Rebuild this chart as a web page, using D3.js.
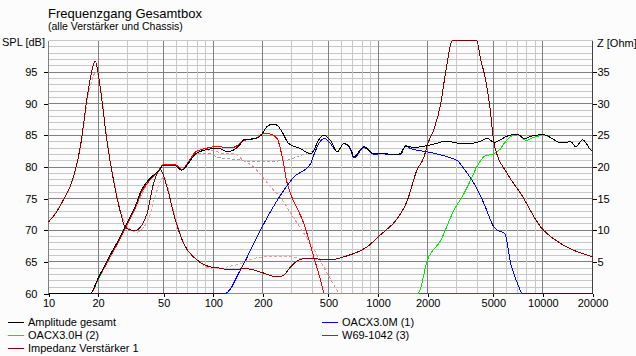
<!DOCTYPE html>
<html>
<head>
<meta charset="utf-8">
<script src="https://d3js.org/d3.v7.min.js"></script>
<style>
body { margin: 0; background: #fcfcfc; }
svg { display: block; font-family: "Liberation Sans", Arial, sans-serif; }
</style>
</head>
<body>
<svg width="636" height="356"></svg>
<script>
var freqTicks = [10, 20, 50, 100, 200, 500, 1000, 2000, 5000, 10000, 20000];
var splTicks = [60, 65, 70, 75, 80, 85, 90, 95];
var ohmTicks = [5, 10, 15, 20, 25, 30, 35];

// [Hz, dB]
var gesamt = [[10,60],[17.9,60],[20,62.4],[23,65.5],[26.5,68.4],[30,71.2],[33.5,73.7],[36.6,76.3],[40.3,77.9],[43.4,78.7],[46.4,79.4],[50,80.3],[58.6,80.2],[64.4,79.5],[70.6,80.6],[77.5,82.0],[89,82.7],[102,82.9],[110,82.9],[121,82.4],[133,82.7],[146,83.6],[153,84.3],[180,84.5],[195,85.0],[212,86.4],[230,86.8],[244,86.6],[262,85.5],[287,83.7],[338,82.9],[389,82.1],[407,82.6],[430,84.0],[470,85.0],[514,84.2],[565,82.4],[620,83.7],[681,82.9],[713,81.6],[820,83.2],[943,82.1],[1060,82.2],[1191,82.0],[1309,82.0],[1371,82.2],[1469,83.3],[1650,83.1],[2087,83.5],[2634,84.1],[3000,83.8],[3648,83.7],[4195,84.1],[4609,84.5],[5053,83.9],[6093,84.9],[7011,85.2],[7691,84.5],[8843,85.0],[10164,85.1],[11400,84.5],[12841,83.8],[14770,84.0],[15850,83.2],[17400,84.3],[19540,82.7],[20000,82.5]];
var w69 = [[10,60],[18,60],[20,62.2],[23,65.2],[26.5,68.1],[30,70.9],[33.5,73.4],[36.6,76.0],[40.3,77.6],[43.4,78.5],[46.4,79.4],[50,80.4],[58.6,80.4],[64.4,79.6],[70.6,80.8],[77.5,82.3],[81,82.6],[89,82.9],[102,83.2],[110,83.2],[121,83.0],[133,83.1],[146,83.8],[153,84.2],[180,84.5],[202,85.3],[222,85.2],[244,84.5],[262,81.6],[281,77.4],[294,75.8],[354,71.1],[407,65.8],[448,62.1],[473,60],[20000,60]];
var oacxM = [[10,60],[118,60],[146,63.7],[193,70.0],[244,74.7],[308,78.4],[389,80.5],[410,82.1],[437,83.7],[473,84.5],[514,83.7],[565,82.4],[620,83.7],[681,82.7],[713,81.4],[820,83.1],[943,82.0],[1060,82.1],[1191,81.9],[1371,82.0],[1469,83.4],[1577,82.9],[1992,82.4],[2634,81.6],[3028,81.0],[3321,79.7],[3820,77.4],[4393,74.2],[5053,70.5],[5297,70.0],[5868,69.5],[6383,64.7],[7011,61.6],[7516,60],[20000,60]];
var oacxH = [[10,60],[1746,60],[1992,65.3],[2400,68.4],[2887,73.2],[3321,75.8],[3700,78.3],[3966,80.0],[4500,81.8],[4930,82.0],[5500,82.8],[5809,83.7],[7011,85.2],[7873,84.2],[8843,84.7],[10164,85.0],[11400,84.5],[12841,83.8],[14770,84.0],[15850,83.2],[17400,84.3],[19540,82.7],[20000,82.5]];
// [Hz, Ohm]
var impedanz = [[10,11.3],[11.2,12.9],[12.6,15.3],[13.5,16.8],[15.6,23.2],[17.5,32.4],[19.2,36.7],[20.6,32.6],[22.6,24.2],[24.8,17.9],[27.3,12.9],[29.2,10.5],[31.9,10.0],[33.6,10.0],[39.6,12.6],[43.4,17.4],[47.7,19.6],[52.4,16.8],[58.9,11.6],[66.1,7.9],[79.7,5.3],[96,4.2],[110,4.0],[121,3.8],[160,3.9],[193,3.4],[244,2.6],[268,2.9],[294,4.2],[338,5.4],[354,5.5],[539,5.4],[620,5.8],[860,7.4],[1036,9.3],[1137,10.2],[1240,11.1],[1504,14.7],[1720,19.5],[1900,21.6],[1992,23.5],[2184,26],[2400,30],[2570,35],[2825,40],[3100,43],[3400,44],[3700,43],[3966,40],[4195,37],[4500,33.7],[4800,28.9],[5053,23.7],[6093,18.9],[7342,15.8],[9706,10.5],[12841,7.9],[15480,6.8],[19540,5.9],[20000,5.8]];

// alte Kurven (gestrichelt)
var gesamtAlt = [[10,60],[17.9,60],[20,62.4],[26.5,68.4],[33.5,73.7],[40.3,77.9],[46.4,79.4],[50,80.3],[58.6,80.2],[64.4,79.5],[70.6,80.6],[77.5,82.0],[89,82.2],[96,82.1],[105,81.6],[121,81.3],[140,81.2],[160,80.9],[212,80.9],[268,81.0],[338,81.8],[389,82.4],[410,82.6]];
var w69Alt = [[10,60],[18,60],[20,62.2],[26.5,68.1],[33.5,73.4],[40.3,77.6],[46.4,79.4],[50,80.4],[58.6,80.4],[64.4,79.6],[70.6,80.8],[77.5,82.3],[89,82.7],[102,82.6],[111,82.2],[133,82.1],[153,81.0],[176,80.0],[202,78.2],[233,76.3],[256,75.2],[290,73.0],[323,71.1],[389,67.9],[491,63.2],[578,60]];
var impedanzAlt = [[10,11.3],[12.6,15.3],[13.5,16.8],[15.6,23.0],[17.5,31.5],[19.5,35.0],[20.6,32.8],[22.6,24.5],[24.8,18.2],[27.3,13.2],[30,10.6],[34.5,9.7],[37,10.2],[40.5,11.8],[44,15.0],[47.5,17.6],[50,18.4],[52.5,17.2],[55.5,14.6],[59,11.8],[66.1,8.0],[79.7,5.3],[96,4.0],[110,3.9],[121,4.2],[146,4.7],[160,5.2],[212,5.8],[294,5.8],[354,5.5],[540,5.4]];

var legendLeft = ["Amplitude gesamt", "OACX3.0H (2)", "Impedanz Verstärker 1"];
var legendRight = ["OACX3.0M (1)", "W69-1042 (3)"];

var svg = d3.select("svg"),
	margin = {top: 40, left: 48},
	width = 544,
	height = 253,
	g = svg.append("g").attr("transform", "translate(" + (margin.left + 0.5) + "," + (margin.top + 0.5) + ")");

svg.insert("rect", ":first-child").attr("width", 636).attr("height", 356).attr("fill", "#fcfcfc");

var x = d3.scaleLog().domain([10, 20000]).range([0, width]),
	y = d3.scaleLinear().domain([60, 100]).range([height, 0]),
	z = d3.scaleLinear().domain([0, 40]).range([height, 0]);

// Gitter
var vlines = [];
[10, 100, 1000, 10000].forEach(function(d) {
	for (var m = 1; m < 10; m++) if (d * m <= 20000) vlines.push(d * m);
});
var hlines = d3.range(61, 101);

g.selectAll(".hg").data(hlines).enter().append("line")
	.attr("x1", 0).attr("x2", width)
	.attr("y1", function(d) { return Math.round(y(d)); })
	.attr("y2", function(d) { return Math.round(y(d)); })
	.attr("stroke", function(d) { return (d % 5 == 0 && d < 100) ? "#808080" : "#c8c8c8"; })
	.attr("shape-rendering", "crispEdges");

g.selectAll(".vg").data(vlines).enter().append("line")
	.attr("y1", 0).attr("y2", height)
	.attr("x1", function(d) { return Math.round(x(d)); })
	.attr("x2", function(d) { return Math.round(x(d)); })
	.attr("stroke", function(d) {
		var lead = Math.round(d / Math.pow(10, Math.floor(Math.log10(d))));
		return (lead == 1 || lead == 2 || lead == 5) ? "#808080" : "#c8c8c8";
	})
	.attr("shape-rendering", "crispEdges");

// Achsen
function styleAxis(a) {
	a.select(".domain").remove();
	a.attr("font-size", 11).attr("font-family", "\"Liberation Sans\", Arial, sans-serif");
	a.selectAll("line").attr("stroke", "#000").attr("shape-rendering", "crispEdges");
	a.selectAll("text").attr("fill", "#000");
}
g.append("g").call(d3.axisLeft(y).tickValues(splTicks).tickSize(5).tickPadding(6)).call(styleAxis);
g.append("g").attr("transform", "translate(" + width + ",0)")
	.call(d3.axisRight(z).tickValues(ohmTicks).tickSize(4).tickPadding(1)).call(styleAxis);
g.append("g").attr("transform", "translate(0," + height + ")")
	.call(d3.axisBottom(x).tickValues(freqTicks).tickFormat(d3.format("d")).tickSize(3).tickPadding(3)).call(styleAxis);

g.append("line").attr("x1", 0).attr("x2", 0).attr("y1", 0).attr("y2", height).attr("stroke", "#808080").attr("shape-rendering", "crispEdges");
g.append("line").attr("x1", width).attr("x2", width).attr("y1", 0).attr("y2", height).attr("stroke", "#404040").attr("shape-rendering", "crispEdges");
g.append("line").attr("x1", 0).attr("x2", width).attr("y1", height).attr("y2", height).attr("stroke", "#404040").attr("shape-rendering", "crispEdges");

// Kurven
var splLine = d3.line().curve(d3.curveMonotoneX)
	.x(function(d) { return x(d[0]); })
	.y(function(d) { return y(Math.max(60, Math.min(100, d[1]))); });
var zLine = d3.line().curve(d3.curveMonotoneX)
	.x(function(d) { return x(d[0]); })
	.y(function(d) { return z(Math.max(0, Math.min(40, d[1]))); });

var kurven = [
	{data: impedanzAlt, ohm: true, color: "#f0a0a0", dash: "3,2"},
	{data: w69Alt, color: "#f09090", dash: "3,2"},
	{data: gesamtAlt, color: "#a0a0a0", dash: "3,2"},
	{data: w69, color: "#ff0000"},
	{data: oacxH, color: "#00ee00"},
	{data: oacxM, color: "#0000ff"},
	{data: gesamt, color: "#000000"},
	{data: impedanz, ohm: true, color: "#800000"}
];

g.selectAll(".kurve").data(kurven).enter().append("path")
	.attr("class", "kurve")
	.attr("fill", "none")
	.attr("stroke", function(d) { return d.color; })
	.attr("stroke-width", 1)
	.attr("shape-rendering", "crispEdges")
	.attr("stroke-dasharray", function(d) { return d.dash || null; })
	.attr("d", function(d) { return d.ohm ? zLine(d.data) : splLine(d.data); });

// Texte
svg.append("text").attr("x", 48).attr("y", 18).attr("font-size", 13).text("Frequenzgang Gesamtbox");
svg.append("text").attr("x", 48).attr("y", 30).attr("font-size", 10.5).text("(alle Verstärker und Chassis)");
svg.append("text").attr("x", 2).attr("y", 46).attr("font-size", 11).text("SPL [dB]");
svg.append("text").attr("x", 597).attr("y", 47).attr("font-size", 11).text("Z [Ohm]");

// Legende
var legColorsLeft = ["#000000", "#00ee00", "#800000"],
	legColorsRight = ["#0000ff", "#ff0000"];
function legende(names, colors, x0, y0) {
	var rows = svg.selectAll(null).data(names).enter().append("g")
		.attr("transform", function(d, i) { return "translate(" + x0 + "," + (y0 + i * 12.8) + ")"; });
	rows.append("line").attr("x1", 0).attr("x2", 16).attr("y1", 0.5).attr("y2", 0.5)
		.attr("stroke", function(d, i) { return colors[i]; }).attr("shape-rendering", "crispEdges");
	rows.append("text").attr("x", 20).attr("y", 4).attr("font-size", 11).text(function(d) { return d; });
}
legende(legendLeft, legColorsLeft, 8, 322);
legende(legendRight, legColorsRight, 322, 322);
</script>
</body>
</html>
